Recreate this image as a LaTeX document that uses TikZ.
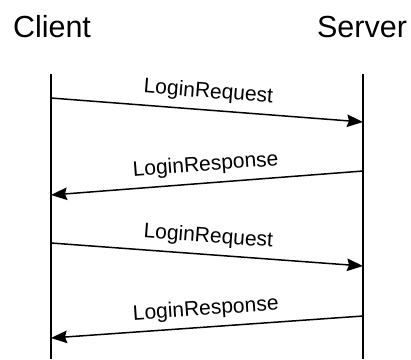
\documentclass[tikz,border=0pt]{standalone}
\usepackage{fontspec}
\setmainfont{Liberation Sans}
\usetikzlibrary{arrows.meta}
\begin{document}
\begin{tikzpicture}[x=1pt,y=1pt,
  title/.style={font=\fontsize{30.5}{36}\selectfont, inner sep=0pt},
  lifeline/.style={line width=1.5pt},
  msg/.style={line width=1.5pt, -{Stealth[length=16pt,width=12.5pt,inset=2pt]}},
  msglabel/.style={font=\fontsize{21}{25}\selectfont, sloped, above=7pt, midway, inner sep=0pt}]
\useasboundingbox (0,0) rectangle (411,-359);
\node[title] (client) at (52,-27) {Client};
\node[title] (server) at (362,-27) {Server};
\coordinate (ctop) at (51,-74);
\coordinate (cbot) at (51,-359);
\coordinate (stop) at (363,-74);
\coordinate (sbot) at (363,-359);
\draw[lifeline] (ctop) -- (cbot);
\draw[lifeline] (stop) -- (sbot);
\coordinate (c1) at (51,-98);
\coordinate (s1) at (363,-122);
\coordinate (s2) at (363,-171);
\coordinate (c2) at (51,-195);
\coordinate (c3) at (51,-243);
\coordinate (s3) at (363,-266);
\coordinate (s4) at (363,-316);
\coordinate (c4) at (51,-338);
\draw[msg] (c1) -- node[msglabel] (l1) {LoginRequest} (s1);
\draw[msg] (s2) -- node[msglabel] (l2) {LoginResponse} (c2);
\draw[msg] (c3) -- node[msglabel] (l3) {LoginRequest} (s3);
\draw[msg] (s4) -- node[msglabel] (l4) {LoginResponse} (c4);
\end{tikzpicture}
\end{document}
